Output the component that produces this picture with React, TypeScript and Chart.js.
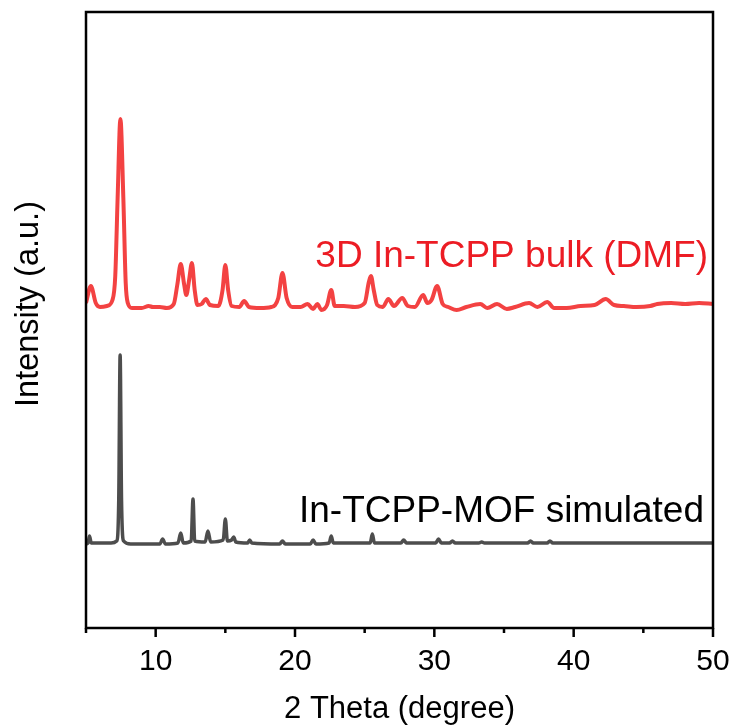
import { useEffect, useRef } from "react";
import { Chart, registerables } from "chart.js";

Chart.register(...registerables);

// ---- Data (2θ in degrees, intensity in arbitrary units) ----
const bulkTheta = [
  5.0, 5.35, 5.7, 6.0, 6.5, 6.9, 7.1, 7.27, 7.47, 7.68, 7.85, 8.0, 8.3, 9.0, 9.5, 9.8, 10.3, 10.8,
  11.3, 11.55, 11.8, 12.05, 12.2, 12.4, 12.6, 12.8, 13.0, 13.3, 13.6, 13.9, 14.5, 14.8, 15.0, 15.2,
  15.45, 16.0, 16.35, 16.7, 17.5, 18.3, 18.8, 19.1, 19.4, 19.8, 20.4, 20.9, 21.3, 21.6, 21.9, 22.3,
  22.6, 22.85, 23.5, 24.3, 25.0, 25.3, 25.45, 25.65, 25.9, 26.3, 26.7, 27.1, 27.7, 28.1, 28.6, 29.2,
  29.5, 29.8, 30.2, 30.6, 31.0, 31.6, 32.3, 33.3, 33.8, 34.5, 35.2, 35.8, 36.8, 37.4, 38.1, 38.6,
  39.5, 40.5, 41.5, 42.3, 42.9, 43.6, 44.5, 45.5, 46.0, 47.0, 48.0, 49.0, 50.0,
];
const bulkIntensity = [
  325, 342, 325, 321, 322, 328, 352, 430, 509, 430, 345, 325, 320, 320, 322, 321, 321, 320,
  324, 343, 364, 343, 333, 348, 365, 338, 323, 324, 329, 323, 322, 338, 363, 338,
  322, 321, 327, 321, 320, 321, 330, 355, 330, 321, 321, 324, 319, 324, 318, 323,
  338, 322, 322, 321, 325, 346, 352, 338, 323, 321, 329, 322, 330, 322, 321, 333,
  325, 328, 342, 324, 321, 318, 321, 324, 320, 324, 319, 321, 325, 321, 326, 320,
  320, 322, 323, 329, 323, 322, 321, 322, 324, 325, 324, 325, 324,
];

const simTheta = [
  5.0, 5.15, 5.25, 5.38, 6.0, 6.8, 7.2, 7.35, 7.45, 7.55, 7.7, 8.2, 10.3, 10.5, 10.7, 11.6, 11.8,
  11.98, 12.55, 12.68, 12.8, 13.55, 13.75, 13.95, 14.85, 15.0, 15.15, 15.45, 15.6, 15.75, 16.6,
  16.75, 16.9, 18.9, 19.1, 19.3, 21.1, 21.3, 21.5, 22.45, 22.6, 22.75, 25.4, 25.55, 25.7, 27.6,
  27.8, 28.0, 30.1, 30.3, 30.5, 31.1, 31.3, 31.5, 33.2, 33.4, 33.6, 36.7, 36.9, 37.1, 38.1, 38.3,
  38.5, 44.0, 50.0,
];
const simIntensity = [
  84, 85, 92, 85, 85, 85, 87, 128, 273, 128, 87, 84, 84, 89, 84, 85, 95,
  85, 87, 129, 87, 86, 97, 86, 88, 109, 87, 88, 91, 86, 85,
  88, 85, 84, 87, 84, 84, 88, 84, 85, 92, 85, 85, 94, 85, 85,
  88, 85, 85, 89, 85, 85, 87, 85, 85, 86, 85, 85, 87, 85, 85, 87,
  85, 85, 85,
];

const xTicks = [10, 20, 30, 40, 50];
const xMinorTicks = [5, 15, 25, 35, 45];
const bulkLabel = "3D In-TCPP bulk (DMF)";
const simLabel = "In-TCPP-MOF simulated";
const xTitle = "2 Theta (degree)";
const yTitle = "Intensity (a.u.)";

const FONT = '"Liberation Sans", Arial, Helvetica, sans-serif';
const RED = "rgb(243, 66, 66)";
const GREY = "rgb(77, 77, 77)";

const decorPlugin = {
  id: "decor",
  afterDraw(chart: any) {
    const { ctx, chartArea } = chart;
    const xs = chart.scales.x;
    const { left, right, top, bottom } = chartArea;
    ctx.save();
    // frame
    ctx.strokeStyle = "#000";
    ctx.lineWidth = 2.5;
    ctx.strokeRect(left, top, right - left, bottom - top);
    // ticks
    ctx.lineWidth = 2.5;
    ctx.beginPath();
    for (const t of xTicks) {
      const px = xs.getPixelForValue(t);
      ctx.moveTo(px, bottom);
      ctx.lineTo(px, bottom + 9);
    }
    for (const t of xMinorTicks) {
      const px = xs.getPixelForValue(t);
      ctx.moveTo(px, bottom);
      ctx.lineTo(px, bottom + 5);
    }
    ctx.stroke();
    // axis titles
    ctx.fillStyle = "#000";
    ctx.textAlign = "center";
    ctx.textBaseline = "alphabetic";
    ctx.font = `31px ${FONT}`;
    ctx.fillText(xTitle, (left + right) / 2, 718);
    ctx.save();
    ctx.translate(38, 304);
    ctx.rotate(-Math.PI / 2);
    ctx.font = `32.5px ${FONT}`;
    ctx.fillText(yTitle, 0, 0);
    ctx.restore();
    // series labels
    ctx.textAlign = "right";
    ctx.font = `37px ${FONT}`;
    ctx.fillStyle = "rgb(236, 28, 36)";
    ctx.fillText(bulkLabel, 708, 267);
    ctx.fillStyle = "#000";
    ctx.fillText(simLabel, 704, 522);
    ctx.restore();
  },
};

export default function App() {
  const canvasRef = useRef<HTMLCanvasElement | null>(null);

  useEffect(() => {
    document.body.style.margin = "0";
    const canvas = canvasRef.current;
    if (!canvas) return;
    const chart = new Chart(canvas, {
      type: "line",
      data: {
        datasets: [
          {
            label: bulkLabel,
            data: bulkTheta.map((x, i) => ({ x, y: bulkIntensity[i] })),
            borderColor: RED,
            borderWidth: 4,
            pointRadius: 0,
            cubicInterpolationMode: "monotone",
            fill: false,
          },
          {
            label: simLabel,
            data: simTheta.map((x, i) => ({ x, y: simIntensity[i] })),
            borderColor: GREY,
            borderWidth: 3.5,
            pointRadius: 0,
            cubicInterpolationMode: "monotone",
            fill: false,
          },
        ],
      },
      options: {
        animation: false,
        responsive: false,
        layout: { padding: { left: 86, right: 24, top: 12, bottom: 0 } },
        plugins: { legend: { display: false }, tooltip: { enabled: false } },
        scales: {
          x: {
            type: "linear",
            min: 5,
            max: 50,
            afterFit: (s: any) => {
              s.height = 100;
              s.paddingLeft = 0;
              s.paddingRight = 0;
            },
            grid: { display: false },
            border: { display: false },
            ticks: {
              stepSize: 5,
              autoSkip: false,
              maxRotation: 0,
              padding: 8,
              color: "#000",
              font: { family: FONT, size: 30 },
              callback: (v: any) => (Number(v) % 10 === 0 ? String(v) : ""),
            },
          },
          y: { display: false, min: 0, max: 616 },
        },
      },
      plugins: [decorPlugin],
    });
    return () => chart.destroy();
  }, []);

  return (
    <div style={{ width: 737, height: 728 }}>
      <canvas ref={canvasRef} width={737} height={728} style={{ display: "block" }} />
    </div>
  );
}
